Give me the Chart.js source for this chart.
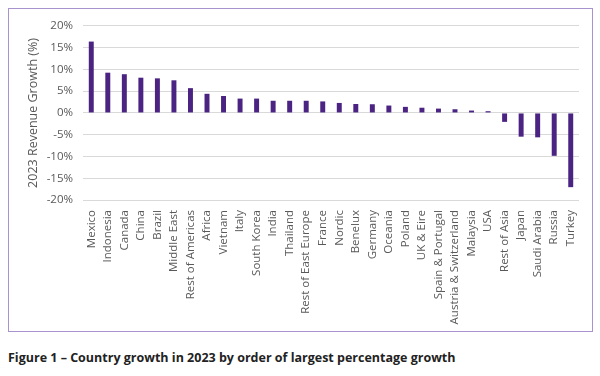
<!DOCTYPE html>
<html>
<head>
<meta charset="utf-8">
<script src="https://cdn.jsdelivr.net/npm/chart.js@4.4.0/dist/chart.umd.min.js"></script>
<style>
  html, body { margin: 0; padding: 0; background: #fff; }
  body { width: 600px; height: 376px; position: relative; font-family: "Open Sans", sans-serif; }
  #chart-box {
    position: absolute; left: 8px; top: 8px;
    width: 583px; height: 322px;
    border: 1.5px solid #a993cf;
  }
  #caption {
    position: absolute; left: 8px; top: 349px;
    font-size: 12.5px; font-weight: bold; color: #222;
    white-space: nowrap;
  }
</style>
</head>
<body>
<div id="chart-box"><canvas id="growth-chart" width="583" height="322"></canvas></div>
<div id="caption">Figure 1 – Country growth in 2023 by order of largest percentage growth</div>

<script>
const countries = [
  "Mexico", "Indonesia", "Canada", "China", "Brazil", "Middle East", "Rest of Americas",
  "Africa", "Vietnam", "Italy", "South Korea", "India", "Thailand", "Rest of East Europe",
  "France", "Nordic", "Benelux", "Germany", "Oceania", "Poland", "UK & Eire",
  "Spain & Portugal", "Austria & Switzerland", "Malaysia", "USA", "Rest of Asia",
  "Japan", "Saudi Arabia", "Russia", "Turkey"
];

// revenue growth 2023, in percent
const growth = [
  16.4, 9.25, 8.9, 8.1, 7.95, 7.5, 5.7,
  4.4, 3.9, 3.3, 3.3, 2.8, 2.8, 2.8,
  2.65, 2.3, 2.05, 2.0, 1.7, 1.4, 1.2,
  1.0, 0.85, 0.55, 0.4, -2.05,
  -5.45, -5.6, -9.85, -17.05
];

const yTicks = [20, 15, 10, 5, 0, -5, -10, -15, -20];

const textGrey = "#595959";
const gridGrey = "#d9d9d9";
const barPurple = "#4b2382";

const ctx = document.getElementById("growth-chart").getContext("2d");
new Chart(ctx, {
  type: "bar",
  data: {
    labels: countries,
    datasets: [{
      data: growth,
      backgroundColor: barPurple,
      borderWidth: 0,
      barPercentage: 0.6,
      categoryPercentage: 0.5
    }]
  },
  options: {
    responsive: false,
    animation: false,
    layout: { padding: { top: 14, right: 13, left: 17, bottom: 0 } },
    plugins: {
      legend: { display: false },
      tooltip: { enabled: false }
    },
    scales: {
      x: {
        grid: { display: false },
        border: { display: false },
        ticks: {
          color: textGrey,
          font: { family: "Open Sans", size: 11.5 },
          maxRotation: 90,
          minRotation: 90,
          autoSkip: false,
          padding: 2
        },
        afterFit: (scale) => { scale.height = 131; }
      },
      y: {
        min: -20,
        max: 20,
        afterBuildTicks: (scale) => {
          scale.ticks = yTicks.map(v => ({ value: v }));
        },
        grid: { color: gridGrey, lineWidth: 1, drawTicks: false },
        border: { display: false },
        ticks: {
          color: textGrey,
          font: { family: "Open Sans", size: 11.5 },
          padding: 10,
          callback: (v) => v + "%"
        },
        title: {
          display: true,
          text: "2023 Revenue Growth (%)",
          color: textGrey,
          font: { family: "Open Sans", size: 12.5 },
          padding: { top: 0, bottom: 4 }
        },
        afterFit: (scale) => { scale.width = 57; }
      }
    }
  }
});
</script>
</body>
</html>
